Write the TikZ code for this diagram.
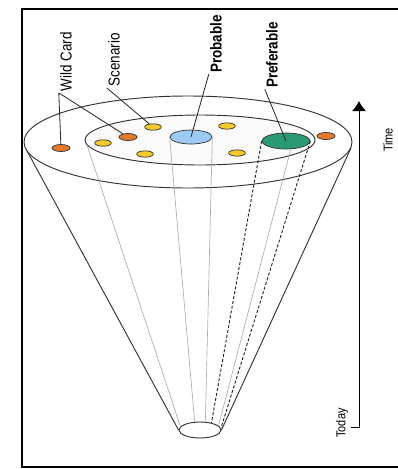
\documentclass[tikz,border=0pt]{standalone}
\usepackage{fontspec}
\setmainfont{Liberation Sans}
\newfontfamily\narrowfont{Liberation Sans}[FakeStretch=0.85]
\usetikzlibrary{arrows.meta, positioning, shapes.geometric}

\definecolor{wildorange}{RGB}{226,122,42}
\definecolor{scenyellow}{RGB}{244,202,44}
\definecolor{probblue}{RGB}{156,202,242}
\definecolor{prefgreen}{RGB}{42,154,116}

\begin{document}
\begin{tikzpicture}[
    x=0.03cm, y=-0.03cm,
    rim/.style={draw=black!80, line width=0.8pt},
    guide/.style={draw=gray!65, line width=0.55pt},
    track/.style={draw=black!85, line width=0.8pt, dash pattern=on 2.6pt off 1.6pt},
    dot/.style={draw=black!80, ellipse, line width=0.6pt, inner sep=0pt, minimum width=0.54cm, minimum height=0.21cm},
    wcdot/.style={dot, fill=wildorange},
    scdot/.style={dot, fill=scenyellow, minimum width=0.5cm, minimum height=0.19cm},
    lbl/.style={rotate=90, inner sep=1pt, font=\narrowfont\fontsize{13.5}{15}\selectfont},
    lblbold/.style={lbl, font=\narrowfont\bfseries\fontsize{13.5}{15}\selectfont},
    axislbl/.style={rotate=90, inner sep=1pt, font=\narrowfont\fontsize{11}{13}\selectfont},
    leader/.style={draw=black!85, line width=0.7pt}
]
    \useasboundingbox (0,0) rectangle (398,469);
    \draw[line width=2.2pt] (398,9) -- (22,9) -- (22,467) -- (398,467);

    % the cone of futures
    \coordinate (coneL) at (26,149);
    \coordinate (coneR) at (351,148);
    \coordinate (innerL) at (87,145);
    \node[ellipse, rim, inner sep=0pt, minimum width=1.26cm, minimum height=0.48cm] (base) at (200,430) {};
    \draw[rim] (coneL) -- (base.west);
    \draw[rim] (coneR) -- (base.east);
    \draw[rim, fill=white] (188,142) ellipse [x radius=164, y radius=46];
    \draw[rim, fill=gray!4] (200,140) ellipse [x radius=115, y radius=25];

    % futures
    \node[wcdot] (wc1) at (61,148) {};
    \node[wcdot] (wc2) at (128,137) {};
    \node[wcdot] (wc3) at (326,136) {};
    \node[scdot] (sc1) at (103,143) {};
    \node[scdot] (sc2) at (153,127) {};
    \node[scdot] (sc3) at (145,154) {};
    \node[scdot] (sc4) at (227,126) {};
    \node[scdot] (sc5) at (237,153) {};
    \node[dot, fill=probblue, minimum width=1.26cm, minimum height=0.42cm] (pb) at (191,137) {};
    \node[dot, fill=prefgreen, minimum width=1.44cm, minimum height=0.48cm] (pf) at (286,141) {};

    % paths back to today
    \draw[guide] (innerL) -- (base.170);
    \draw[guide] (pb.west) -- (base.123);
    \draw[guide] (pb.east) -- (base.57);
    \draw[guide] (pf.-60) -- (base.13);
    \draw[track] (pf.west) -- (base.32);
    \draw[track] (pf.east) -- (base.5);

    % labels
    \node[lbl] (wildlbl) at (66,62) {Wild Card};
    \node[lbl] (scenlbl) at (114,60) {Scenario};
    \node[lblbold] (problbl) at (216,44) {Probable};
    \node[lblbold] (preflbl) at (272,55) {Preferable};
    \draw[leader] (wildlbl.north west) -- (wc1);
    \draw[leader] (wildlbl.north west) -- (wc2);
    \draw[leader] (scenlbl.north west) -- (sc2);
    \draw[leader] (problbl.north west) -- (pb.center);
    \draw[leader] (preflbl.north west) -- (pf.center);

    % time axis
    \node[axislbl] (timelbl) at (388,140) {Time};
    \node[axislbl] (todaylbl) at (342,423) {Today};
    \coordinate (now) at (351,427);
    \coordinate (future) at (359,101);
    \draw[line width=0.8pt, -{Latex[length=0.3cm, width=0.42cm]}] (now) -| (future);
\end{tikzpicture}
\end{document}
